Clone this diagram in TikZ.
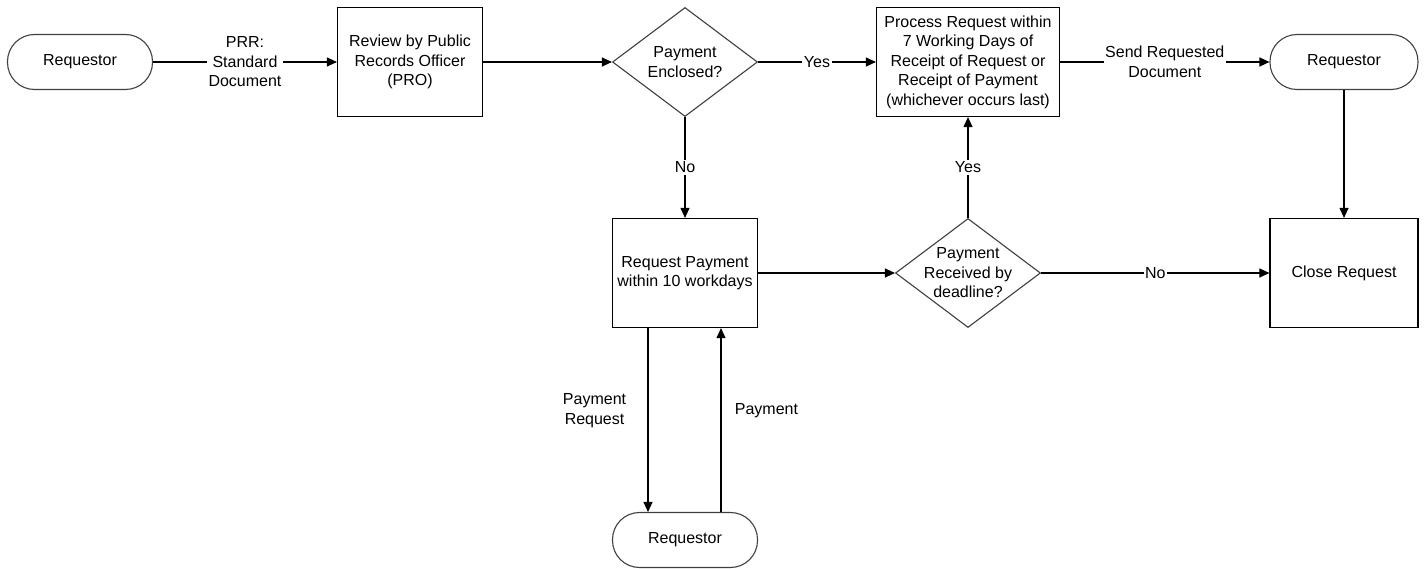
\documentclass[tikz,border=0pt]{standalone}
\usepackage{fontspec}
\setmainfont{Liberation Sans}
\usetikzlibrary{shapes.geometric,arrows.meta}

\begin{document}
\begin{tikzpicture}[x=1pt,y=-1pt,font=\fontsize{16}{19.5}\selectfont]
  \tikzset{box/.style={draw,rectangle,inner sep=0pt,minimum width=145pt,minimum height=109pt,align=center,line width=1.2pt}}
  \tikzset{term/.style={draw=black!75,rectangle,rounded corners=27pt,inner sep=0pt,minimum width=145pt,minimum height=55pt,line width=1.1pt}}
  \tikzset{decision/.style={draw=black!75,diamond,inner sep=0pt,minimum width=145pt,minimum height=109pt,line width=1.1pt}}
  \tikzset{arrow/.style={draw,line width=1.1pt,-{Triangle[length=10pt,width=9pt]}}}
  \tikzset{lbl/.style={fill=white,inner sep=1.5pt,align=center}}

  \useasboundingbox (0,0) rectangle (1424,569);

  \node[term] (req1) at (80,62) {Requestor};
  \node[box] (review) at (410,62) {Review by Public\\Records Officer\\(PRO)};
  \node[decision,label={[align=center]center:{Payment\\Enclosed?}}] (paid) at (685,62) {};
  \node[box,minimum width=183pt] (process) at (968,62) {Process Request within\\7 Working Days of\\Receipt of Request or\\Receipt of Payment\\(whichever occurs last)};
  \node[term,minimum width=148pt] (req2) at (1344,62) {Requestor};

  \node[box] (askpay) at (685,273) {Request Payment\\within 10 workdays};
  \node[decision,label={[align=center]center:{Payment\\Received by\\deadline?}}] (received) at (968,273) {};
  \node[box,minimum width=148pt] (close) at (1344,273) {Close Request};

  \node[term] (req3) at (685,540) {Requestor};

  \draw[arrow] (req1) -- node[lbl]{PRR:\\Standard\\Document} (review);
  \draw[arrow] (review) -- (paid);
  \draw[arrow] (paid) -- node[lbl]{Yes} (process);
  \draw[arrow] (process) -- node[lbl]{Send Requested\\Document} (req2);
  \draw[arrow] (req2) -- (close);

  \draw[arrow] (paid) -- node[lbl]{No} (askpay);
  \draw[arrow] (askpay) -- (received);
  \draw[arrow] (received) -- node[lbl]{Yes} (process);
  \draw[arrow] (received) -- node[lbl]{No} (close);

  \draw[arrow] ([xshift=-37pt]askpay.south) -- node[pos=0.45,left=18pt,align=center]{Payment\\Request} ([xshift=-37pt]req3.north);
  \draw[arrow] ([xshift=36pt]req3.north) -- node[pos=0.55,right=10pt]{Payment} ([xshift=36pt]askpay.south);

\end{tikzpicture}
\end{document}
